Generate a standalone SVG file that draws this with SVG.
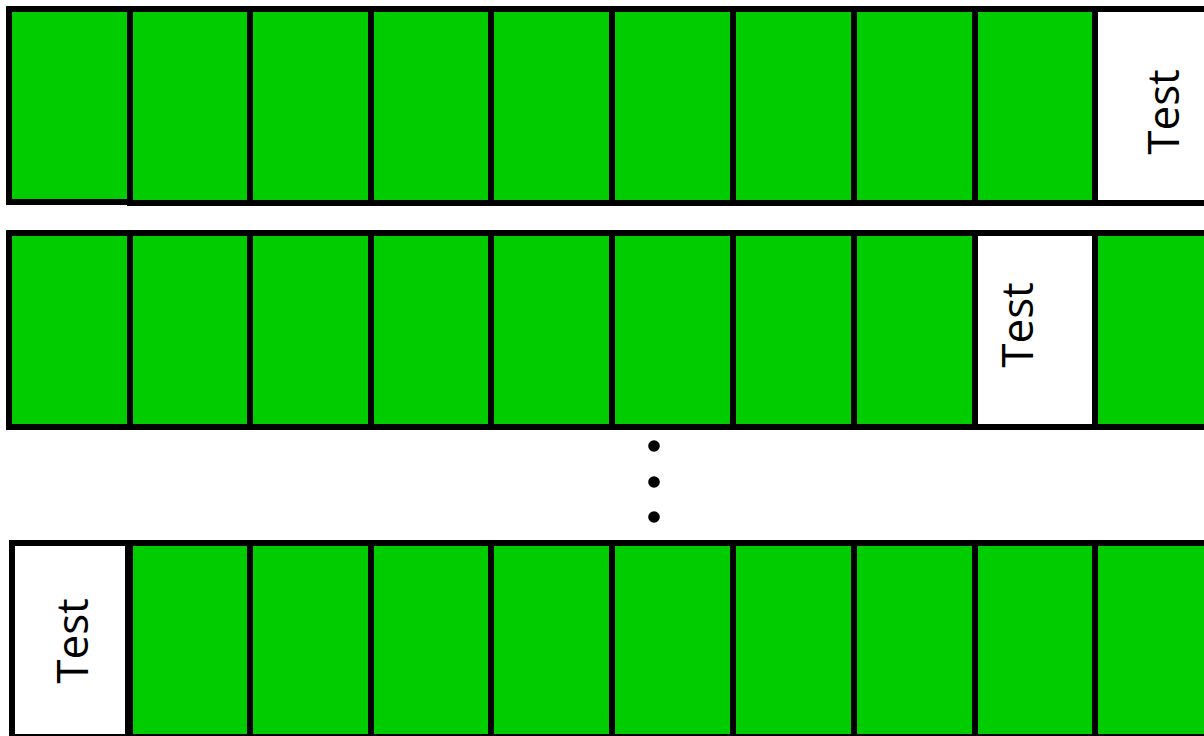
<svg xmlns="http://www.w3.org/2000/svg" width="1204" height="736" viewBox="0 0 1204 736">
<style>
.g{fill:#00cc00;stroke:#000;stroke-width:6}
.w{fill:#fff;stroke:#000;stroke-width:6}
.t{font-family:"Open Sans","DejaVu Sans",sans-serif;font-size:44px;fill:#000;text-anchor:middle}
</style>
<rect width="1204" height="736" fill="#fff"/>
<g id="row1">
<rect class="g" x="9" y="9" width="121" height="193"/>
<rect class="g" x="130" y="9" width="120" height="194"/>
<rect class="g" x="250" y="9" width="121" height="194"/>
<rect class="g" x="371" y="9" width="120" height="194"/>
<rect class="g" x="491" y="9" width="121" height="194"/>
<rect class="g" x="612" y="9" width="121" height="194"/>
<rect class="g" x="733" y="9" width="121" height="194"/>
<rect class="g" x="854" y="9" width="121" height="194"/>
<rect class="g" x="975" y="9" width="120" height="194"/>
<g id="row1-test">
<rect class="w" x="1095" y="9" width="121" height="194"/>
<text class="t" transform="translate(1179,112) rotate(-90)">Test</text>
</g>
</g>
<g id="row2">
<rect class="g" x="9" y="233" width="121" height="194"/>
<rect class="g" x="130" y="233" width="120" height="194"/>
<rect class="g" x="250" y="233" width="121" height="194"/>
<rect class="g" x="371" y="233" width="120" height="194"/>
<rect class="g" x="491" y="233" width="121" height="194"/>
<rect class="g" x="612" y="233" width="121" height="194"/>
<rect class="g" x="733" y="233" width="121" height="194"/>
<rect class="g" x="854" y="233" width="121" height="194"/>
<rect class="g" x="1095" y="233" width="121" height="194"/>
<g id="row2-test">
<rect class="w" x="975" y="233" width="120" height="194"/>
<text class="t" transform="translate(1033,325) rotate(-90)">Test</text>
</g>
</g>
<g id="ellipsis">
<circle cx="654" cy="446" r="5.8" fill="#000"/>
<circle cx="654" cy="482" r="5.8" fill="#000"/>
<circle cx="654" cy="517" r="5.8" fill="#000"/>
</g>
<g id="row3">
<rect class="g" x="130" y="543" width="120" height="194"/>
<rect class="g" x="250" y="543" width="121" height="194"/>
<rect class="g" x="371" y="543" width="120" height="194"/>
<rect class="g" x="491" y="543" width="121" height="194"/>
<rect class="g" x="612" y="543" width="121" height="194"/>
<rect class="g" x="733" y="543" width="121" height="194"/>
<rect class="g" x="854" y="543" width="121" height="194"/>
<rect class="g" x="975" y="543" width="120" height="194"/>
<rect class="g" x="1095" y="543" width="121" height="194"/>
<g id="row3-test">
<rect class="w" x="12" y="543" width="116" height="194"/>
<text class="t" transform="translate(88,641) rotate(-90)">Test</text>
</g>
</g>
</svg>
